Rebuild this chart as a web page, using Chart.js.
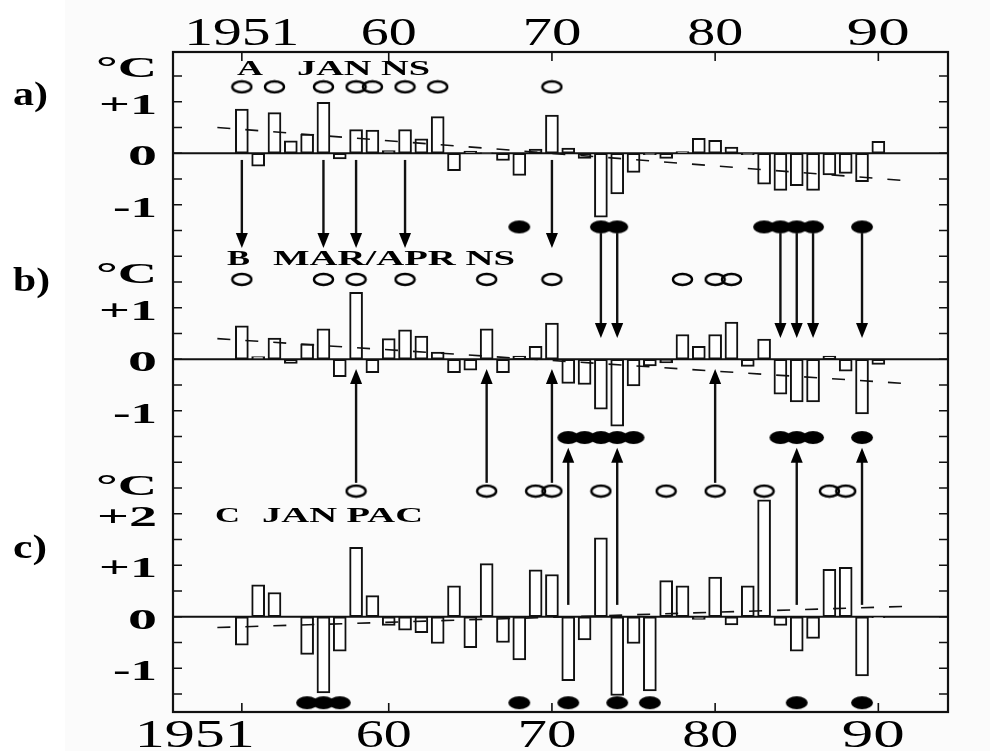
<!DOCTYPE html>
<html lang="en">
<head>
<meta charset="UTF-8">
<title>JAN NS / MAR-APR NS / JAN PAC</title>
<script src="https://cdn.jsdelivr.net/npm/chart.js"></script>
<style>
  html, body { margin: 0; padding: 0; background: #fff; }
  canvas { display: block; }
</style>
</head>
<body>
<canvas id="chart" width="990" height="751"></canvas>
<script>
// years of the three series
const years = [1951, 1952, 1953, 1954, 1955, 1956, 1957, 1958, 1959, 1960,
               1961, 1962, 1963, 1964, 1965, 1966, 1967, 1968, 1969, 1970,
               1971, 1972, 1973, 1974, 1975, 1976, 1977, 1978, 1979, 1980,
               1981, 1982, 1983, 1984, 1985, 1986, 1987, 1988, 1989, 1990];

// a) A  JAN NS  (deg C anomaly)
const janNS = [0.86, -0.25, 0.79, 0.24, 0.37, 0.99, -0.11, 0.46, 0.45, 0.05,
               0.46, 0.28, 0.71, -0.34, 0.04, 0.01, -0.14, -0.43, 0.08, 0.74,
               0.10, -0.10, -1.24, -0.79, -0.37, -0.03, -0.10, 0.03, 0.29, 0.25,
               0.12, -0.03, -0.60, -0.72, -0.63, -0.72, -0.42, -0.39, -0.55, 0.23];
// b) B  MAR/APR NS
const marAprNS = [0.65, 0.05, 0.41, -0.08, 0.30, 0.59, -0.34, 1.30, -0.26, 0.40,
                  0.57, 0.45, 0.14, -0.26, -0.21, 0.59, -0.26, 0.06, 0.25, 0.70,
                  -0.47, -0.49, -0.97, -1.30, -0.52, -0.13, -0.07, 0.48, 0.25, 0.48,
                  0.72, -0.14, 0.39, -0.68, -0.83, -0.83, 0.06, -0.23, -1.06, -0.10];
// c) C  JAN PAC
const janPAC = [-0.55, 0.62, 0.47, 0.00, -0.73, -1.48, -0.67, 1.35, 0.41, -0.17,
                -0.26, -0.31, -0.52, 0.60, -0.60, 1.03, -0.50, -0.84, 0.91, 0.82,
                -1.24, -0.45, 1.53, -1.53, -0.52, -1.44, 0.70, 0.60, -0.05, 0.77,
                -0.16, 0.60, 2.27, -0.17, -0.67, -0.42, 0.92, 0.96, -1.15, -0.02];

// linear trend lines (start / end values)
const trendYears = [1949.5, 1991.6];
const trendA = [0.50, -0.53];
const trendB = [0.40, -0.47];
const trendC = [-0.21, 0.20];

// marked years: open = warm, filled = cold
const openA = [1951, 1953, 1956, 1958, 1959, 1961, 1963, 1970];
const fillA = [1968, 1973, 1974, 1983, 1984, 1985, 1986, 1989];
const openB = [1951, 1956, 1958, 1961, 1966, 1970, 1978, 1980, 1981];
const fillB = [1971, 1972, 1973, 1974, 1975, 1984, 1985, 1986, 1989];
const openC = [1958, 1966, 1969, 1970, 1973, 1977, 1980, 1983, 1987, 1988];
const fillC = [1955, 1956, 1957, 1968, 1971, 1974, 1976, 1985, 1989];

// arrows between panels
const arrowsDownOpen = [1951, 1956, 1958, 1961, 1970];
const arrowsDownFill = [1973, 1974, 1984, 1985, 1986, 1989];
const arrowsUpOpen = [1958, 1966, 1970, 1980];
const arrowsUpFill = [1971, 1974, 1985, 1989];

// axis labels
const xTickYears = [1951, 1960, 1970, 1980, 1990];
const xTickLabels = ['1951', '60', '70', '80', '90'];
const yTickVals = [1, 0, -1];
const yTickLabels = ['+1', '0', '-1'];
const yTickValsC = [2, 1, 0, -1];
const yTickLabelsC = ['+2', '+1', '0', '-1'];

// panel zero lines on the shared y scale
const OFF_A = 10.85, OFF_B = 6.85, OFF_C = 1.85;
const SERIF = '"Liberation Serif", "Times New Roman", serif';

function bars(vals, off) {
  return years.map((yr, i) => ({ x: yr, y: [off, off + vals[i]] }));
}
function trend(vals, off) {
  return trendYears.map((yr, i) => ({ x: yr, y: off + vals[i] }));
}
function marks(list, off, rel) {
  return list.map(yr => ({ x: yr, y: off + rel }));
}
function ellipse(rx, ry, filled) {
  const c = document.createElement('canvas');
  c.width = rx * 2 + 4; c.height = ry * 2 + 4;
  const g = c.getContext('2d');
  g.beginPath();
  g.ellipse(c.width / 2, c.height / 2, rx, ry, 0, 0, Math.PI * 2);
  if (filled) { g.fillStyle = '#000'; g.fill(); }
  else { g.lineWidth = 2.4; g.strokeStyle = '#000'; g.stroke(); }
  return c;
}
const openImg = ellipse(9.5, 5.5, false);
const fillImg = ellipse(11, 6.5, true);

function barSet(vals, off) {
  return { type: 'bar', data: bars(vals, off), order: 3,
           backgroundColor: '#fff', borderColor: '#111', borderWidth: 2,
           borderSkipped: false, barThickness: 13 };
}
function trendSet(vals, off) {
  return { type: 'line', data: trend(vals, off), order: 1,
           borderColor: '#111', borderWidth: 1.6, borderDash: [13, 15],
           pointRadius: 0, fill: false };
}
function markSet(list, off, rel, img) {
  return { type: 'line', data: marks(list, off, rel), order: 0, showLine: false,
           pointStyle: img, pointRadius: 6, borderColor: '#000' };
}

// stretched text: the scanned lettering is much wider than the font
function stext(c, s, x, y, font, w, align) {
  c.font = font;
  const m = c.measureText(s).width;
  c.save();
  c.translate(x, y);
  c.scale(w / m, 1);
  c.textAlign = align;
  c.textBaseline = 'alphabetic';
  c.fillText(s, 0, 0);
  c.restore();
}

function arrow(c, x, y0, y1) {
  const dir = y1 > y0 ? 1 : -1;
  c.beginPath();
  c.moveTo(x, y0);
  c.lineTo(x, y1 - dir * 10);
  c.stroke();
  c.beginPath();
  c.moveTo(x, y1);
  c.lineTo(x - 6, y1 - dir * 15);
  c.lineTo(x + 6, y1 - dir * 15);
  c.closePath();
  c.fill();
}

const deco = {
  id: 'deco',
  beforeDraw(chart) {
    const c = chart.ctx;
    c.save();
    c.fillStyle = '#fff';
    c.fillRect(0, 0, chart.width, chart.height);
    c.fillStyle = '#fbfbfb';
    c.fillRect(65, 0, chart.width - 65, chart.height);
    c.restore();
  },
  beforeDatasetsDraw(chart) {
    const c = chart.ctx, a = chart.chartArea, y = chart.scales.y;
    c.save();
    c.strokeStyle = '#111';
    c.lineWidth = 1.8;
    [OFF_A, OFF_B, OFF_C].forEach(off => {
      const py = y.getPixelForValue(off);
      c.beginPath(); c.moveTo(a.left, py); c.lineTo(a.right, py); c.stroke();
    });
    c.restore();
  },
  afterDraw(chart) {
    const c = chart.ctx, a = chart.chartArea;
    const x = chart.scales.x, y = chart.scales.y;
    c.save();
    c.strokeStyle = '#111';
    c.fillStyle = '#000';

    // frame and inside ticks
    c.lineWidth = 2.2;
    c.strokeRect(a.left, a.top, a.right - a.left, a.bottom - a.top);
    c.lineWidth = 1.6;
    for (let k = -3; k <= 21; k++) {
      const py = y.getPixelForValue(OFF_C + k * 0.5);
      c.beginPath();
      c.moveTo(a.left, py); c.lineTo(a.left + 9, py);
      c.moveTo(a.right, py); c.lineTo(a.right - 9, py);
      c.stroke();
    }
    xTickYears.forEach(yr => {
      const px = x.getPixelForValue(yr);
      c.beginPath();
      c.moveTo(px, a.top); c.lineTo(px, a.top + 9);
      c.moveTo(px, a.bottom); c.lineTo(px, a.bottom - 9);
      c.stroke();
    });

    // year labels, top and bottom
    const topW = [115, 56, 59, 56, 63];
    xTickYears.forEach((yr, i) => {
      const px = x.getPixelForValue(yr);
      stext(c, xTickLabels[i], px, 45, '39px ' + SERIF, topW[i], 'center');
      if (i === 0) stext(c, xTickLabels[i], px + 13, 747, '39px ' + SERIF, 120, 'right');
      else stext(c, xTickLabels[i], px - 5, 747, '39px ' + SERIF, topW[i], 'center');
    });

    // y labels per panel
    const yW = { '+1': 58, '+2': 60, '0': 29, '-1': 44 };
    const yFont = 'bold 30px ' + SERIF;
    [[OFF_A, yTickVals, yTickLabels, 1.48],
     [OFF_B, yTickVals, yTickLabels, 1.48],
     [OFF_C, yTickValsC, yTickLabelsC, 2.36]].forEach(([off, vals, labs, degPos]) => {
      vals.forEach((v, i) => {
        stext(c, labs[i], 157, y.getPixelForValue(off + v) + 12, yFont, yW[labs[i]], 'right');
      });
      stext(c, '°C', 157, y.getPixelForValue(off + degPos), yFont, 61, 'right');
    });

    // panel letters
    const pFont = 'bold 34px ' + SERIF;
    stext(c, 'a)', 13, 105, pFont, 35, 'left');
    stext(c, 'b)', 13, 291, pFont, 37, 'left');
    stext(c, 'c)', 13, 558, pFont, 34, 'left');

    // panel titles
    const tFont = 'bold 20px ' + SERIF;
    stext(c, 'A', 237, 75, tFont, 26, 'left');
    stext(c, 'JAN NS', 297, 75, tFont, 133, 'left');
    stext(c, 'B', 227, 265, tFont, 23, 'left');
    stext(c, 'MAR/APR NS', 273, 265, tFont, 242, 'left');
    stext(c, 'C', 215, 522, tFont, 25, 'left');
    stext(c, 'JAN PAC', 262, 522, tFont, 161, 'left');

    // arrows
    c.lineWidth = 2.4;
    const Y = v => y.getPixelForValue(v);
    arrowsDownOpen.forEach(yr => arrow(c, x.getPixelForValue(yr), Y(10.72), Y(9.01)));
    arrowsDownFill.forEach(yr => arrow(c, x.getPixelForValue(yr), Y(9.30), Y(7.26)));
    arrowsUpOpen.forEach(yr => arrow(c, x.getPixelForValue(yr), Y(4.45), Y(6.66)));
    arrowsUpFill.forEach(yr => arrow(c, x.getPixelForValue(yr), Y(2.08), Y(5.13)));
    c.restore();
  }
};

new Chart(document.getElementById('chart'), {
  type: 'bar',
  data: {
    datasets: [
      barSet(janNS, OFF_A), barSet(marAprNS, OFF_B), barSet(janPAC, OFF_C),
      trendSet(trendA, OFF_A), trendSet(trendB, OFF_B), trendSet(trendC, OFF_C),
      markSet(openA, OFF_A, 1.29, openImg), markSet(fillA, OFF_A, -1.43, fillImg),
      markSet(openB, OFF_B, 1.55, openImg), markSet(fillB, OFF_B, -1.52, fillImg),
      markSet(openC, OFF_C, 2.44, openImg), markSet(fillC, OFF_C, -1.67, fillImg)
    ]
  },
  options: {
    responsive: false,
    animation: false,
    layout: { padding: { left: 173, right: 42, top: 52, bottom: 39 } },
    datasets: { bar: { grouped: false } },
    plugins: { legend: { display: false }, tooltip: { enabled: false } },
    scales: {
      x: { type: 'linear', min: 1949.42, max: 1991.63, display: false },
      y: { type: 'linear', min: 0, max: 12.816, display: false }
    }
  },
  plugins: [deco]
});
</script>
</body>
</html>
